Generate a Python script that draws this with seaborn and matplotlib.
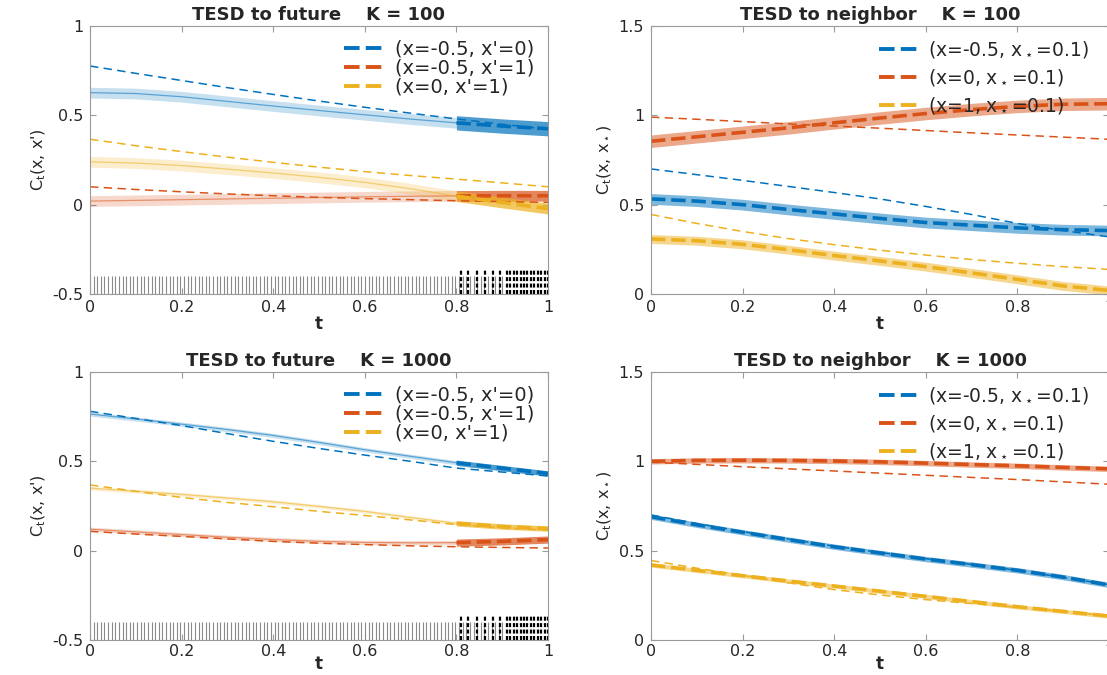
import numpy as np
import pandas as pd
import matplotlib
matplotlib.use("Agg")
import matplotlib.pyplot as plt
import seaborn as sns
from matplotlib.lines import Line2D
from matplotlib.ticker import FuncFormatter

# ---------------- data ----------------
t = [0.0, 0.1, 0.2, 0.3, 0.4, 0.5, 0.6, 0.7, 0.8, 0.9, 1.0]

# TESD to future, K = 100
fut100_true_blue = [0.776, 0.735, 0.695, 0.655, 0.617, 0.58, 0.545, 0.512, 0.48, 0.45, 0.422]
fut100_est_blue = [0.627, 0.622, 0.604, 0.578, 0.552, 0.527, 0.503, 0.479, 0.458, 0.44, 0.425]
fut100_true_orange = [0.10, 0.085, 0.072, 0.06, 0.05, 0.041, 0.034, 0.028, 0.022, 0.017, 0.013]
fut100_est_orange = [0.02, 0.024, 0.028, 0.032, 0.036, 0.04, 0.044, 0.047, 0.049, 0.05, 0.05]
fut100_true_yellow = [0.366, 0.33, 0.297, 0.266, 0.237, 0.21, 0.185, 0.163, 0.143, 0.122, 0.10]
fut100_est_yellow = [0.24, 0.233, 0.219, 0.199, 0.177, 0.153, 0.125, 0.089, 0.048, 0.012, -0.022]
fut100_hw = [0.03, 0.03, 0.03]
fut100_hw_late = [0.04, 0.03, 0.03]

# TESD to neighbor, K = 100
nb100_true_blue = [0.70, 0.668, 0.636, 0.602, 0.568, 0.532, 0.49, 0.445, 0.395, 0.355, 0.32]
nb100_est_blue = [0.532, 0.52, 0.50, 0.473, 0.448, 0.423, 0.40, 0.385, 0.37, 0.36, 0.355]
nb100_true_orange = [0.99, 0.978, 0.965, 0.952, 0.94, 0.928, 0.915, 0.902, 0.89, 0.878, 0.866]
nb100_est_orange = [0.855, 0.88, 0.905, 0.93, 0.958, 0.985, 1.01, 1.032, 1.05, 1.062, 1.065]
nb100_true_yellow = [0.445, 0.395, 0.35, 0.31, 0.276, 0.245, 0.218, 0.193, 0.172, 0.153, 0.138]
nb100_est_yellow = [0.308, 0.298, 0.278, 0.248, 0.215, 0.185, 0.153, 0.118, 0.082, 0.045, 0.02]
nb100_hw = [0.03, 0.035, 0.025]

# TESD to future, K = 1000
fut1000_true_blue = [0.78, 0.74, 0.70, 0.655, 0.612, 0.572, 0.535, 0.50, 0.462, 0.44, 0.418]
fut1000_est_blue = [0.765, 0.737, 0.708, 0.678, 0.645, 0.606, 0.565, 0.528, 0.492, 0.462, 0.432]
fut1000_true_orange = [0.108, 0.093, 0.08, 0.066, 0.052, 0.042, 0.034, 0.027, 0.022, 0.018, 0.015]
fut1000_est_orange = [0.12, 0.105, 0.09, 0.075, 0.062, 0.052, 0.046, 0.044, 0.045, 0.052, 0.062]
fut1000_true_yellow = [0.368, 0.332, 0.298, 0.27, 0.246, 0.22, 0.197, 0.172, 0.146, 0.128, 0.115]
fut1000_est_yellow = [0.35, 0.333, 0.315, 0.295, 0.274, 0.248, 0.22, 0.186, 0.153, 0.135, 0.124]
fut1000_hw = [0.012, 0.012, 0.01]
fut1000_hw_late = [0.015, 0.02, 0.015]

# TESD to neighbor, K = 1000
nb1000_true_blue = [0.70, 0.652, 0.607, 0.565, 0.525, 0.49, 0.455, 0.423, 0.39, 0.35, 0.31]
nb1000_est_blue = [0.69, 0.645, 0.603, 0.562, 0.522, 0.487, 0.453, 0.422, 0.39, 0.352, 0.308]
nb1000_true_orange = [0.995, 0.983, 0.97, 0.958, 0.946, 0.934, 0.922, 0.91, 0.898, 0.885, 0.872]
nb1000_est_orange = [1.0, 1.005, 1.006, 1.005, 1.002, 0.997, 0.99, 0.982, 0.975, 0.966, 0.958]
nb1000_true_yellow = [0.445, 0.402, 0.362, 0.32, 0.282, 0.252, 0.226, 0.204, 0.183, 0.16, 0.134]
nb1000_est_yellow = [0.42, 0.39, 0.36, 0.33, 0.302, 0.273, 0.244, 0.215, 0.186, 0.16, 0.134]
nb1000_hw = [0.015, 0.015, 0.012]

# rug marks (time grid of observations)
rug_gray = np.arange(0.0, 0.905, 0.0079)
rug_black = [0.809, 0.826, 0.844, 0.862, 0.879, 0.895,
             0.91, 0.918, 0.925, 0.933, 0.94, 0.948, 0.955, 0.963, 0.97, 0.978, 0.985, 0.993, 1.0]

future_labels = ["(x=-0.5, x'=0)", "(x=-0.5, x'=1)", "(x=0, x'=1)"]
neighbor_labels = [r"(x=-0.5, x$_\star$=0.1)", r"(x=0, x$_\star$=0.1)", r"(x=1, x$_\star$=0.1)"]
titles = ["TESD to future    K = 100", "TESD to neighbor    K = 100",
          "TESD to future    K = 1000", "TESD to neighbor    K = 1000"]
xticks = [0, 0.2, 0.4, 0.6, 0.8, 1.0]
yticks_future = [-0.5, 0, 0.5, 1]
yticks_neighbor = [0, 0.5, 1, 1.5]

colors = ["#0072BD", "#D95319", "#EDB120"]

# ---------------- style ----------------
sns.set_theme(style="white")
plt.rcParams["font.family"] = ["DejaVu Sans"]
plt.rcParams["axes.unicode_minus"] = False
plt.rcParams["mathtext.default"] = "regular"

fig = plt.figure(figsize=(11.07, 6.75), dpi=100)
W, H = 1107.0, 675.0
ax_tl = fig.add_axes([90 / W, 1 - 294 / H, 458 / W, 268 / H])
ax_tr = fig.add_axes([651 / W, 1 - 294 / H, 458 / W, 268 / H])
ax_bl = fig.add_axes([90 / W, 1 - 640 / H, 458 / W, 268 / H])
ax_br = fig.add_axes([651 / W, 1 - 640 / H, 458 / W, 268 / H])

thin_dash = (0, (5.5, 3.5))
thick_dash = (0, (4.0, 1.6))
t_arr = np.array(t)
early = t_arr <= 0.8001
late = t_arr >= 0.7999


def line(ax, x, y, **kw):
    df = pd.DataFrame({"t": x, "v": y})
    sns.lineplot(data=df, x="t", y="v", ax=ax, errorbar=None, legend=False, **kw)


def future_panel(ax, trues, ests, hw, hw_late):
    for c, tr, es, h, hl in zip(colors, trues, ests, hw, hw_late):
        es = np.array(es)
        ax.fill_between(t_arr[early], es[early] - h, es[early] + h, color=c, alpha=0.22, lw=0)
        line(ax, t_arr[early], es[early], color=c, lw=0.9, alpha=0.55)
        ax.fill_between(t_arr[late], es[late] - hl, es[late] + hl, color=c, alpha=0.7, lw=0)
        line(ax, t_arr[late], es[late], color=c, lw=2.6, linestyle=thick_dash)
        line(ax, t, tr, color=c, lw=1.1, linestyle=thin_dash)
    ax.vlines(rug_gray, -0.5, -0.4, color="#8a8a8a", lw=0.8)
    ax.vlines(rug_black, -0.5, -0.36, color="black", lw=1.6, linestyles=[(0, (1.8, 1.1))])
    ax.set_ylim(-0.5, 1)
    ax.set_yticks(yticks_future)
    ax.set_ylabel("C$_t$(x, x')", fontsize=11.5, labelpad=3)


def neighbor_panel(ax, trues, ests, hw):
    for c, tr, es, h in zip(colors, trues, ests, hw):
        es = np.array(es)
        ax.fill_between(t_arr, es - h, es + h, color=c, alpha=0.5, lw=0)
        line(ax, t, es, color=c, lw=2.6, linestyle=thick_dash)
        line(ax, t, tr, color=c, lw=1.1, linestyle=thin_dash)
    ax.set_ylim(0, 1.5)
    ax.set_yticks(yticks_neighbor)
    ax.set_ylabel(r"C$_t$(x, x$_\star$)", fontsize=11.5, labelpad=3)


future_panel(ax_tl, [fut100_true_blue, fut100_true_orange, fut100_true_yellow],
             [fut100_est_blue, fut100_est_orange, fut100_est_yellow], fut100_hw, fut100_hw_late)
neighbor_panel(ax_tr, [nb100_true_blue, nb100_true_orange, nb100_true_yellow],
               [nb100_est_blue, nb100_est_orange, nb100_est_yellow], nb100_hw)
future_panel(ax_bl, [fut1000_true_blue, fut1000_true_orange, fut1000_true_yellow],
             [fut1000_est_blue, fut1000_est_orange, fut1000_est_yellow], fut1000_hw, fut1000_hw_late)
neighbor_panel(ax_br, [nb1000_true_blue, nb1000_true_orange, nb1000_true_yellow],
               [nb1000_est_blue, nb1000_est_orange, nb1000_est_yellow], nb1000_hw)

fmt = FuncFormatter(lambda v, p: f"{v:g}")
for i, (ax, title, labels) in enumerate(zip([ax_tl, ax_tr, ax_bl, ax_br], titles,
                                            [future_labels, neighbor_labels, future_labels, neighbor_labels])):
    ax.set_xlim(0, 1)
    ax.set_xticks(xticks)
    ax.xaxis.set_major_formatter(fmt)
    ax.yaxis.set_major_formatter(fmt)
    ax.set_xlabel("t", fontsize=12, fontweight="bold", labelpad=0 if i < 2 else -3)
    ax.set_title(title, fontsize=13, fontweight="bold", pad=4)
    ax.tick_params(direction="in", length=4, width=0.8, color="#9a9a9a",
                   labelsize=11.5, labelcolor="#262626", top=True, right=True,
                   bottom=True, left=True, pad=5)
    ax.tick_params(axis="x", pad=4 if i < 2 else 3)
    for s in ax.spines.values():
        s.set_color("#9a9a9a")
        s.set_linewidth(0.8)
        s.set_visible(True)
    handles = [Line2D([0], [0], color=c, lw=2.8, linestyle=thick_dash) for c in colors]
    big = labels is neighbor_labels
    ax.legend(handles, labels, loc="upper right", bbox_to_anchor=(1.0, 1.0) if not big else (0.985, 1.0),
              frameon=False, fontsize=14 if not big else 13.5, handlelength=2.2, handletextpad=0.4,
              labelspacing=0.0 if not big else 0.4, borderaxespad=0.3)

fig.savefig("out.png", dpi=100)
